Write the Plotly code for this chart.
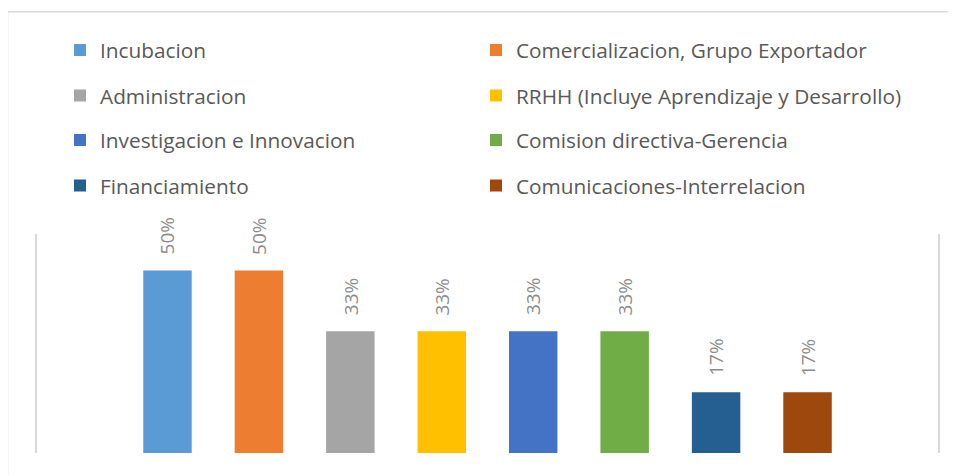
import plotly.graph_objects as go

categories = [
    "Incubacion",
    "Comercializacion, Grupo Exportador",
    "Administracion",
    "RRHH (Incluye Aprendizaje y Desarrollo)",
    "Investigacion e Innovacion",
    "Comision directiva-Gerencia",
    "Financiamiento",
    "Comunicaciones-Interrelacion",
]
values = [0.5, 0.5, 1/3, 1/3, 1/3, 1/3, 1/6, 1/6]
colors = ["#5B9BD5", "#ED7D31", "#A5A5A5", "#FFC000", "#4472C4", "#70AD47", "#255E91", "#9E480E"]

W, H = 956, 475
OFF = 8  # page body margin offset
ML = 37 - OFF
MT = 234 - OFF
PW = 901
PH = 218.7
MR = W - ML - PW
MB = H - MT - PH
FONT = "Open Sans"

fig = go.Figure()
legend_names = ["legend"] + [f"legend{k}" for k in range(2, 9)]
for i, (c, v, col) in enumerate(zip(categories, values, colors)):
    fig.add_trace(go.Bar(
        x=[c], y=[v], name=c, marker=dict(color=col, line=dict(width=0)),
        width=0.53, legend=legend_names[i], hoverinfo="skip",
    ))
    fig.add_annotation(
        x=c, y=v, text=f"{v:.0%}", textangle=-90, showarrow=False,
        yanchor="bottom", yshift=14,
        font=dict(family=FONT, size=19, color="#8c8c8c"),
    )

row_y = [50.5, 96, 140.5, 186]
col_x = [60, 476]
leg = {}
for i, name in enumerate(legend_names):
    ry = row_y[i // 2]
    cx = col_x[i % 2]
    leg[name] = dict(
        orientation="h", xref="container", yref="container",
        x=(cx - OFF) / W, y=1 - (ry - OFF) / H, xanchor="left", yanchor="middle",
        font=dict(family=FONT, size=20.8, color="#595959"),
        bgcolor="rgba(0,0,0,0)", borderwidth=0,
    )

# outer chart border (partly cut off in the reference)
bx = (7.5 - OFF - ML) / PW
by = (H - MB - (12 - OFF)) / PH
fig.add_shape(type="line", xref="paper", yref="paper", x0=bx, x1=bx, y0=by, y1=-0.3,
              line=dict(color="#d9d9d9", width=1.5))
fig.add_shape(type="line", xref="paper", yref="paper", x0=bx, x1=1.2, y0=by, y1=by,
              line=dict(color="#d9d9d9", width=1.5))

fig.update_layout(
    width=W, height=H,
    margin=dict(l=ML, r=MR, t=MT, b=MB, autoexpand=False),
    paper_bgcolor="white", plot_bgcolor="white",
    barmode="overlay",
    showlegend=True,
    font=dict(family=FONT),
    xaxis=dict(type="category", categoryorder="array", categoryarray=categories,
               range=[-1.427, 8.427], showticklabels=False, showgrid=False,
               zeroline=False, showline=False, ticks=""),
    yaxis=dict(range=[0, 0.6], showticklabels=False, showgrid=False, zeroline=False,
               showline=True, mirror=True, linecolor="#d9d9d9", linewidth=1.5, ticks=""),
    **leg,
)

fig.write_html("out.html")
